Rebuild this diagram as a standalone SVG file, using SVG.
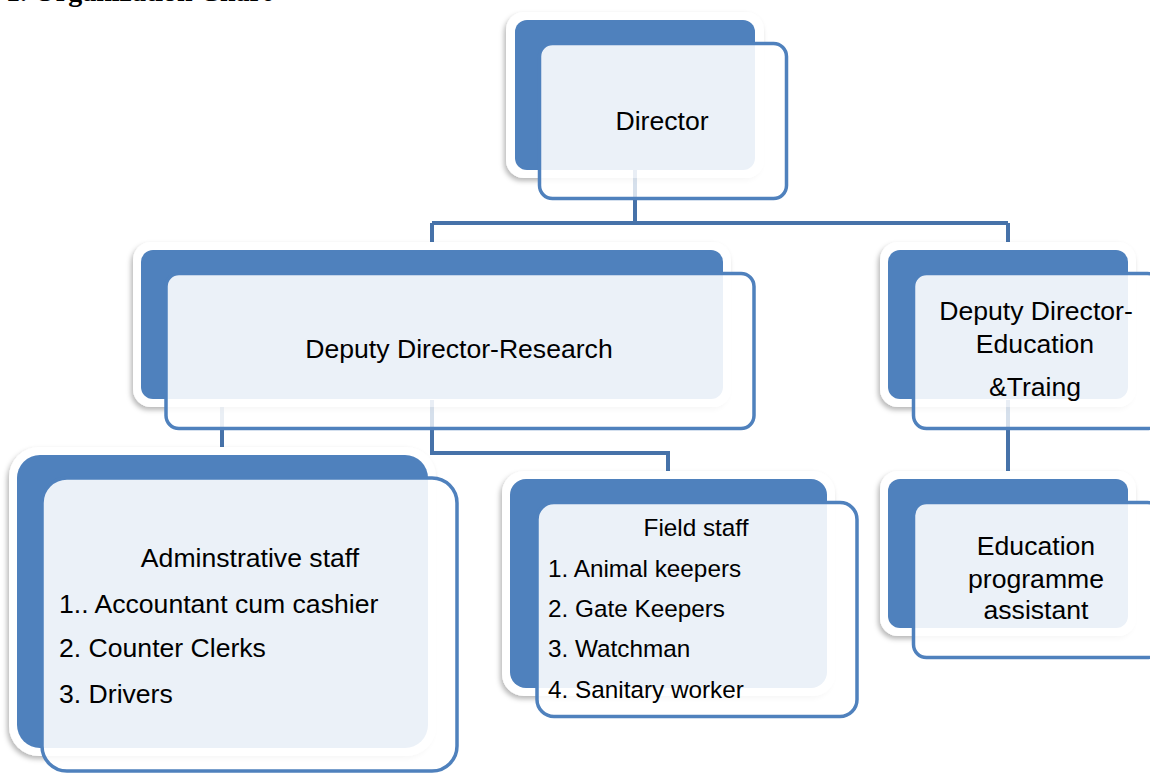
<svg xmlns="http://www.w3.org/2000/svg" width="1150" height="773" viewBox="0 0 1150 773">
  <defs>
    <filter id="shadow" x="-10%" y="-10%" width="120%" height="125%">
      <feDropShadow dx="-2" dy="3" stdDeviation="2.5" flood-color="#000" flood-opacity="0.28"/>
    </filter>
    <style>
      .halo { fill: #ffffff; filter: url(#shadow); }
      .back { fill: #4F81BD; }
      .front { fill: #ffffff; fill-opacity: 0.885; stroke: #4F81BD; stroke-width: 3.5; }
      .conn { fill: none; stroke: #4672A9; stroke-width: 4; stroke-linejoin: miter; }
      .faint { fill: none; stroke: #4672A9; stroke-opacity: 0.12; stroke-width: 4; }
      .t { font-family: "Liberation Sans", Arial, sans-serif; fill: #000; }
      .big { font-size: 26.6px; }
      .mid { font-size: 24.3px; }
      .c { text-anchor: middle; }
      .title { font-family: "Liberation Serif", "Times New Roman", serif; font-weight: bold; font-size: 28px; fill: #000; }
    </style>
  </defs>

  <rect x="0" y="0" width="1150" height="773" fill="#ffffff"/>

  <text class="title" x="6" y="1">1. Organization Chart</text>

  <g id="connectors">
    <path class="conn" d="M635,170 V223 M432,223 H1008 M432,223 V252 M1008,223 V252"/>
    <path class="conn" d="M1008,400 V480"/>
    <path class="conn" d="M222,400 V456"/>
    <path class="conn" d="M432,400 V453 H668 V480"/>
  </g>

  <g id="director">
    <rect class="halo" x="506" y="12" width="258" height="166" rx="18"/>
    <rect class="back" x="515" y="20" width="240" height="150" rx="12"/>
    <rect class="front" x="539.5" y="43.5" width="247" height="155" rx="13"/>
    <path class="faint" d="M635,170 V197"/>
    <text class="t big c" x="662" y="130">Director</text>
  </g>

  <g id="deputy-research">
    <rect class="halo" x="133" y="242" width="598" height="165" rx="18"/>
    <rect class="back" x="141" y="250" width="582" height="149" rx="12"/>
    <rect class="front" x="166" y="273.5" width="588" height="155" rx="13"/>
    <path class="faint" d="M432,400 V427"/>
    <text class="t big c" x="459" y="358">Deputy Director-Research</text>
  </g>

  <g id="deputy-education">
    <rect class="halo" x="880" y="242" width="256" height="165" rx="18"/>
    <rect class="back" x="888" y="250" width="240" height="149" rx="12"/>
    <rect class="front" x="913.5" y="273.5" width="247" height="155" rx="13"/>
    <path class="faint" d="M1008,400 V427"/>
    <text class="t big c" x="1036" y="320">Deputy Director-</text>
    <text class="t big c" x="1035" y="353">Education</text>
    <text class="t big c" x="1035" y="396">&amp;Traing</text>
  </g>

  <g id="education-assistant">
    <rect class="halo" x="880" y="471" width="256" height="165" rx="18"/>
    <rect class="back" x="888" y="479" width="240" height="149" rx="12"/>
    <rect class="front" x="913.5" y="502.5" width="247" height="155" rx="13"/>
    <text class="t big c" x="1036" y="555">Education</text>
    <text class="t big c" x="1036" y="588">programme</text>
    <text class="t big c" x="1036" y="619">assistant</text>
  </g>

  <g id="field-staff">
    <rect class="halo" x="502" y="471" width="333" height="225" rx="22"/>
    <rect class="back" x="510" y="479" width="317" height="209" rx="16"/>
    <rect class="front" x="537" y="502.5" width="320" height="214" rx="17"/>
    <text class="t mid c" x="696" y="536">Field staff</text>
    <text class="t mid" x="548" y="577">1. Animal keepers</text>
    <text class="t mid" x="548" y="617">2. Gate Keepers</text>
    <text class="t mid" x="548" y="657">3. Watchman</text>
    <text class="t mid" x="548" y="698">4. Sanitary worker</text>
  </g>

  <g id="admin-staff">
    <rect class="halo" x="9" y="447" width="427" height="309" rx="30"/>
    <rect class="back" x="17" y="455" width="411" height="293" rx="23"/>
    <rect class="front" x="42" y="478" width="415" height="293" rx="25"/>
    <text class="t big c" x="250" y="567">Adminstrative staff</text>
    <text class="t big" x="59" y="613">1.. Accountant cum cashier</text>
    <text class="t big" x="59" y="657">2. Counter Clerks</text>
    <text class="t big" x="59" y="703">3. Drivers</text>
  </g>
</svg>
